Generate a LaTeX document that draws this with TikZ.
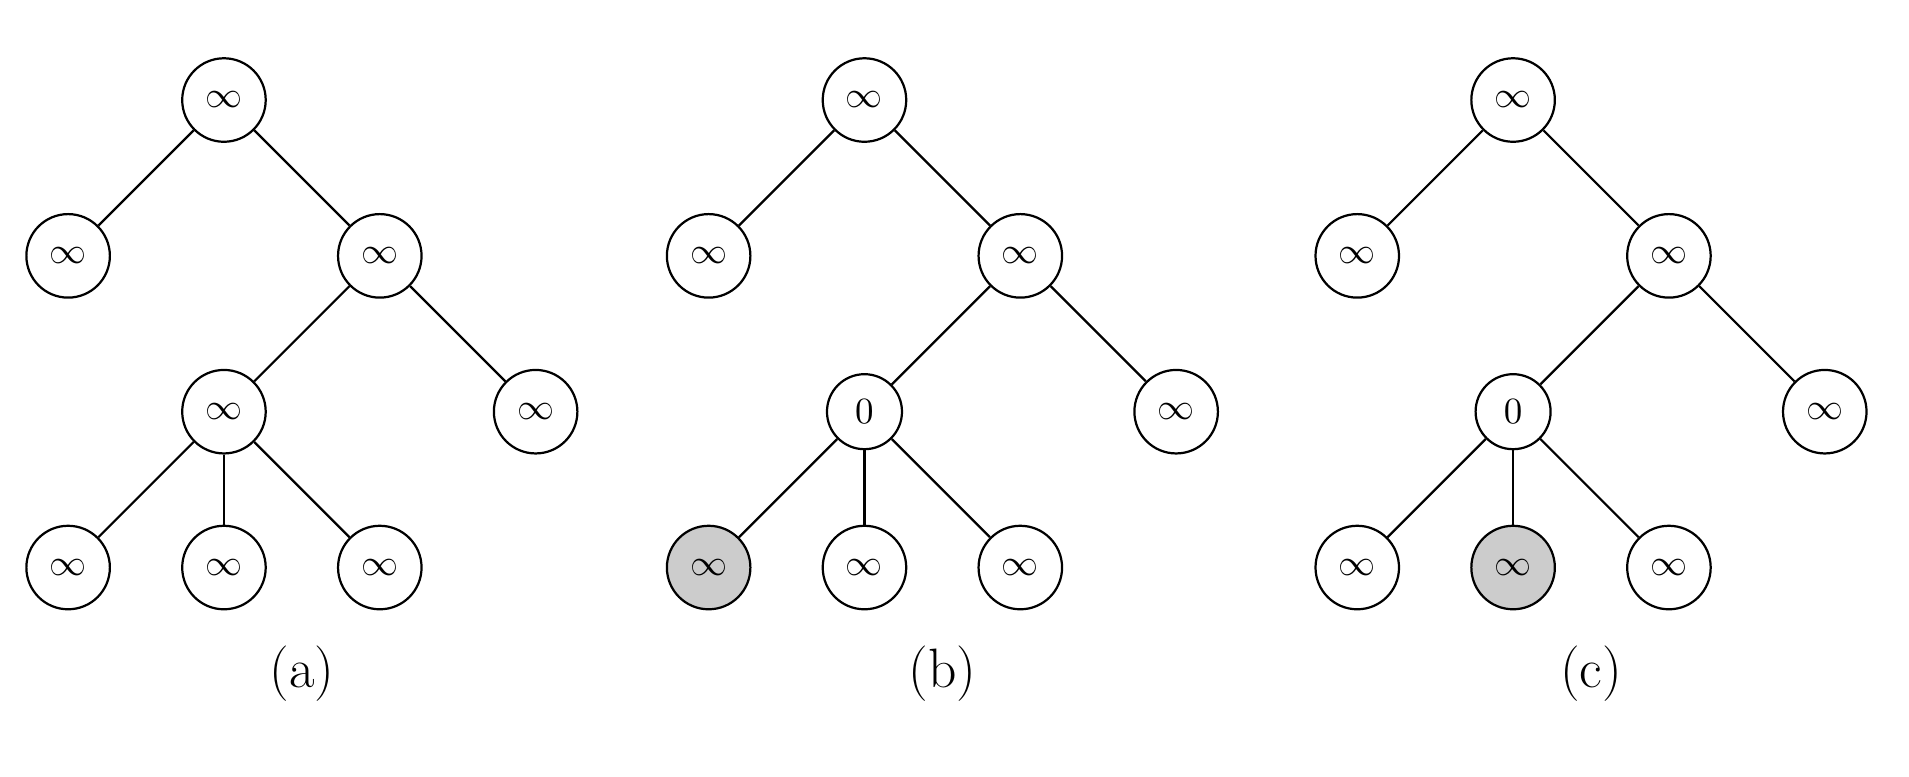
\documentclass[tikz,border=0pt]{standalone}
\begin{document}
\begin{tikzpicture}
    \tikzset{every node/.style={draw, circle, semithick, inner sep=4.3pt}}
    \tikzset{every path/.style={semithick}}
    \tikzset{marked/.style={fill=black!20}}
    \tikzset{caption/.style={draw=none, circle=none, font=\fontsize{15}{18}\selectfont}}

    \useasboundingbox (0,0) rectangle (18.13,-7.37);

    % (a)
    \begin{scope}[shift={(2.127cm,-0.95cm)}, x=1.48cm, y=1.48cm]
        \node (a1) at (0,0) {$\infty$};
        \node (a2) at (-1,-1) {$\infty$};
        \node (a3) at (1,-1) {$\infty$};
        \node (a4) at (0,-2) {$\infty$};
        \node (a5) at (2,-2) {$\infty$};
        \node (a6) at (-1,-3) {$\infty$};
        \node (a7) at (0,-3) {$\infty$};
        \node (a8) at (1,-3) {$\infty$};

        \draw (a1) -- (a2);
        \draw (a1) -- (a3);
        \draw (a3) -- (a4);
        \draw (a3) -- (a5);
        \draw (a4) -- (a6);
        \draw (a4) -- (a7);
        \draw (a4) -- (a8);

        \node[caption] (acap) at (0.5,-3.68) {(a)};
    \end{scope}

    % (b)
    \begin{scope}[shift={(8.21cm,-0.95cm)}, x=1.48cm, y=1.48cm]
        \node (b1) at (0,0) {$\infty$};
        \node (b2) at (-1,-1) {$\infty$};
        \node (b3) at (1,-1) {$\infty$};
        \node (b4) at (0,-2) {$0$};
        \node (b5) at (2,-2) {$\infty$};
        \node[marked] (b6) at (-1,-3) {$\infty$};
        \node (b7) at (0,-3) {$\infty$};
        \node (b8) at (1,-3) {$\infty$};

        \draw (b1) -- (b2);
        \draw (b1) -- (b3);
        \draw (b3) -- (b4);
        \draw (b3) -- (b5);
        \draw (b4) -- (b6);
        \draw (b4) -- (b7);
        \draw (b4) -- (b8);

        \node[caption] (bcap) at (0.5,-3.68) {(b)};
    \end{scope}

    % (c)
    \begin{scope}[shift={(14.37cm,-0.95cm)}, x=1.48cm, y=1.48cm]
        \node (c1) at (0,0) {$\infty$};
        \node (c2) at (-1,-1) {$\infty$};
        \node (c3) at (1,-1) {$\infty$};
        \node (c4) at (0,-2) {$0$};
        \node (c5) at (2,-2) {$\infty$};
        \node (c6) at (-1,-3) {$\infty$};
        \node[marked] (c7) at (0,-3) {$\infty$};
        \node (c8) at (1,-3) {$\infty$};

        \draw (c1) -- (c2);
        \draw (c1) -- (c3);
        \draw (c3) -- (c4);
        \draw (c3) -- (c5);
        \draw (c4) -- (c6);
        \draw (c4) -- (c7);
        \draw (c4) -- (c8);

        \node[caption] (ccap) at (0.5,-3.68) {(c)};
    \end{scope}
\end{tikzpicture}
\end{document}
